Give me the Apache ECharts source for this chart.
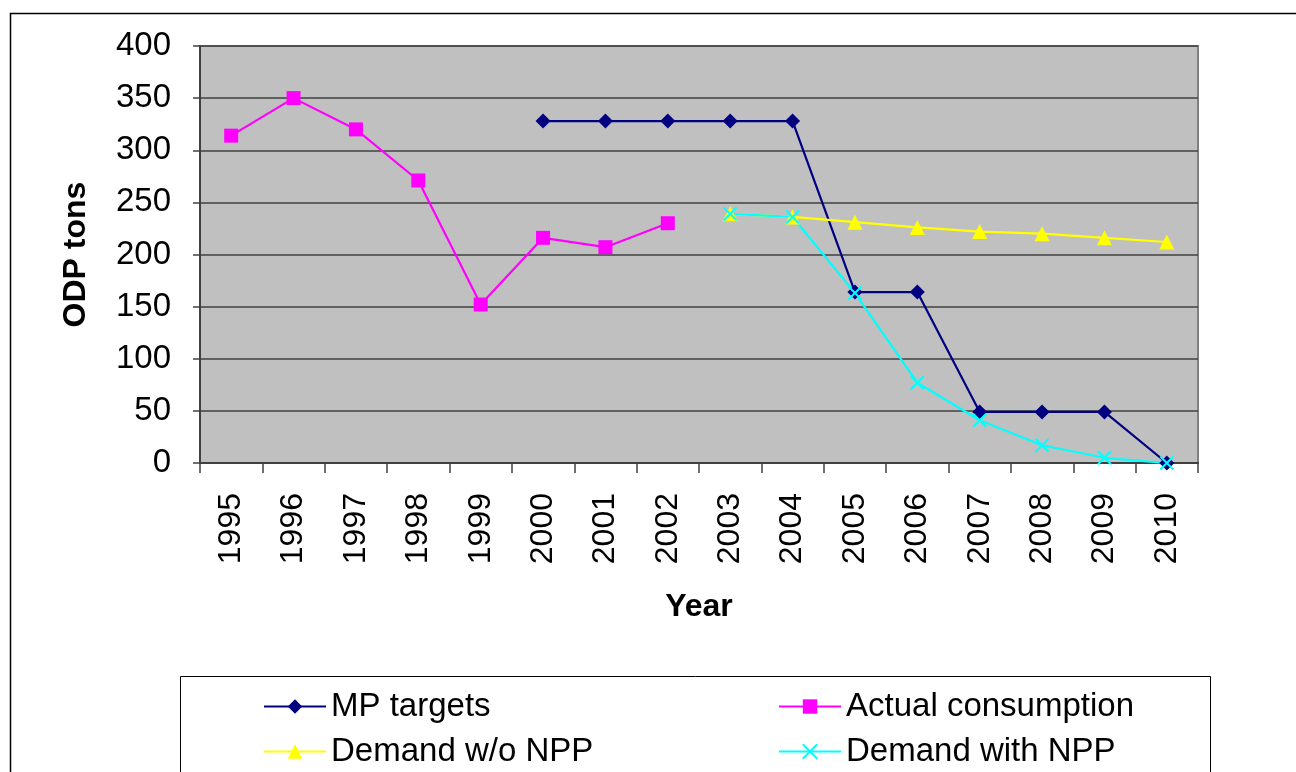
<!DOCTYPE html>
<html>
<head>
<meta charset="utf-8">
<script src="https://cdn.jsdelivr.net/npm/echarts@6/dist/echarts.min.js"></script>
<style>
html,body{margin:0;padding:0;background:#fff;}
#chart{width:1296px;height:772px;}
</style>
</head>
<body>
<div id="chart"></div>
<script>
var years = ['1995','1996','1997','1998','1999','2000','2001','2002','2003','2004','2005','2006','2007','2008','2009','2010'];
var mpTargets = [null,null,null,null,null,328,328,328,328,328,164,164,49,49,49,0];
var actualConsumption = [314,350,320,271,152,216,207,230,null,null,null,null,null,null,null,null];
var demandWithoutNPP = [null,null,null,null,null,null,null,null,239,236,231,226,222,220,216,212];
var demandWithNPP = [null,null,null,null,null,null,null,null,239,236,163,77,41,17,5,0];
var yTicks = [0,50,100,150,200,250,300,350,400];

var FONT = 'Liberation Sans, Arial, sans-serif';
var crossPath = 'path://M0,0L10,10M10,0L0,10';

var chart = echarts.init(document.getElementById('chart'), null, {renderer:'canvas'});

function legendAt(name, left, top){
  return {
    data:[name], left:left, top:top, orient:'horizontal',
    itemWidth:62, itemHeight:18, itemGap:0,
    textStyle:{fontFamily:FONT, fontSize:33, color:'#000'},
    padding:0
  };
}

var option = {
  animation:false,
  backgroundColor:'#ffffff',
  graphic:[
    {type:'rect', shape:{x:10.5, y:13.5, width:1300, height:800}, style:{fill:null, stroke:'#000', lineWidth:1.5}, silent:true, z:-1},
    {type:'rect', shape:{x:180.5, y:676.5, width:1030, height:200}, style:{fill:'#fff', stroke:'#000', lineWidth:1}, silent:true, z:-1}
  ],
  legend:[
    legendAt('MP targets', 263, 690),
    legendAt('Actual consumption', 778, 690),
    legendAt('Demand w/o NPP', 263, 735),
    legendAt('Demand with NPP', 778, 735)
  ],
  grid:{left:200, right:98, top:46, bottom:309, show:true, backgroundColor:'#C0C0C0', borderColor:'#808080', borderWidth:2},
  xAxis:{
    type:'category', data:years, boundaryGap:true,
    name:'Year', nameLocation:'middle', nameGap:128,
    nameTextStyle:{fontFamily:FONT, fontSize:32, fontWeight:'bold', color:'#000'},
    axisLine:{show:true, lineStyle:{color:'#404040', width:2}},
    axisTick:{show:true, interval:0, alignWithLabel:false, length:10, lineStyle:{color:'#404040', width:1.5}},
    axisLabel:{rotate:90, interval:0, margin:30, fontFamily:FONT, fontSize:32, color:'#000'},
    splitLine:{show:false}
  },
  yAxis:{
    type:'value', min:0, max:400, interval:50,
    name:'ODP tons', nameLocation:'middle', nameGap:108, nameRotate:90,
    nameTextStyle:{fontFamily:FONT, fontSize:32, fontWeight:'bold', color:'#000'},
    axisLine:{show:true, lineStyle:{color:'#404040', width:2}},
    axisTick:{show:true, length:7, lineStyle:{color:'#404040', width:1.5}},
    axisLabel:{margin:29, fontFamily:FONT, fontSize:33, color:'#000',
      formatter:function(v){ return yTicks.indexOf(v) >= 0 ? String(v) : ''; }},
    splitLine:{show:true, lineStyle:{color:'#404040', width:1.5}}
  },
  series:[
    {name:'MP targets', type:'line', data:mpTargets, connectNulls:false,
     symbol:'diamond', symbolSize:15, color:'#000080',
     lineStyle:{color:'#000080', width:2.2}, itemStyle:{color:'#000080'}},
    {name:'Actual consumption', type:'line', data:actualConsumption, connectNulls:false,
     symbol:'rect', symbolSize:14, color:'#FF00FF',
     lineStyle:{color:'#FF00FF', width:2.2}, itemStyle:{color:'#FF00FF'}},
    {name:'Demand w/o NPP', type:'line', data:demandWithoutNPP, connectNulls:false,
     symbol:'triangle', symbolSize:15, color:'#FFFF00',
     lineStyle:{color:'#FFFF00', width:2.2}, itemStyle:{color:'#FFFF00'}},
    {name:'Demand with NPP', type:'line', data:demandWithNPP, connectNulls:false,
     symbol:crossPath, symbolSize:13, color:'#00FFFF',
     lineStyle:{color:'#00FFFF', width:2.2}, itemStyle:{color:'rgba(0,0,0,0)', borderColor:'#00FFFF', borderWidth:2}}
  ]
};
chart.setOption(option);
</script>
</body>
</html>
